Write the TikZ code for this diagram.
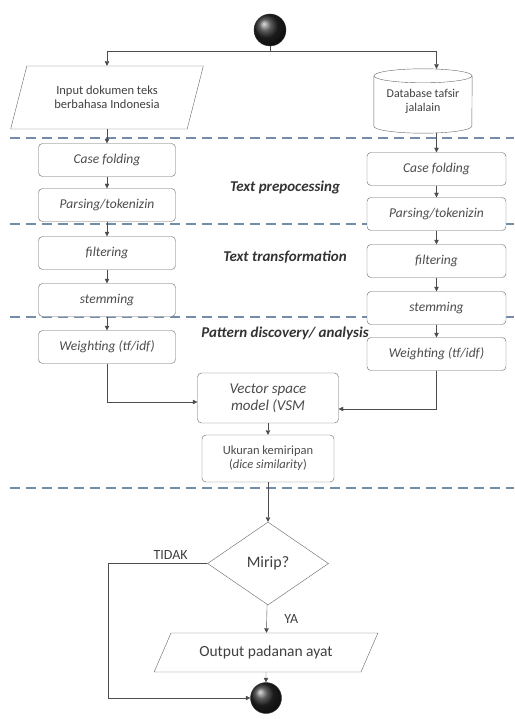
\documentclass[tikz,border=0pt]{standalone}
\usepackage{fontspec}
\setmainfont{Carlito}
\usetikzlibrary{arrows.meta,shapes.geometric,positioning}

\definecolor{sepblue}{RGB}{115,140,170}
\tikzset{
	stepbox/.style={draw=black!60, fill=white, rounded corners=4pt, minimum width=137pt, minimum height=33pt, font=\fontsize{13.5}{15}\selectfont\itshape, text=black!70},
	arr/.style={draw=black!70, -{Triangle[length=4.5pt,width=4.5pt]}},
	sepline/.style={draw=sepblue, line width=1.6pt, dash pattern=on 10pt off 6pt},
	section/.style={font=\fontsize{15}{17}\selectfont\bfseries\itshape, text=black!80},
	dot/.style={circle, minimum size=32pt, shading=ball, ball color=black!85, draw=black!80}
}

\begin{document}
\begin{tikzpicture}[x=1pt, y=-1pt]
		\useasboundingbox (0,0) rectangle (514,719);
		% separators
		\foreach \y in {138,224,317,488}
			\draw[sepline] (10,\y) -- (514,\y);
		\node[section] (prep) at (285,188) {Text prepocessing};
		\node[section] (trans) at (285,257) {Text transformation};
		\node[section] (pattern) at (285,333) {Pattern discovery/ analysis};
		% start
		\node[dot] (start) at (270,30) {};
		\coordinate (split) at (270,51);
		\node[trapezium, trapezium left angle=69, trapezium right angle=111, trapezium stretches=true, draw=black!60, fill=white, minimum width=193pt, minimum height=63pt, align=center, font=\fontsize{12.5}{14}\selectfont, text=black!75] (inp) at (107,97.5) {Input dokumen teks\\berbahasa Indonesia};
		\node[minimum width=98pt, minimum height=64pt, align=center, font=\fontsize{12}{14}\selectfont, text=black!75] (db) at (423,101) {Database tafsir\\jalalain};
		\draw[black!60] ([yshift=-7pt]db.north) ellipse [x radius=49pt, y radius=7pt];
		\draw[black!60] ([yshift=-7pt]db.north west) -- ([yshift=7pt]db.south west) arc [start angle=180, end angle=360, x radius=49pt, y radius=7pt] -- ([yshift=-7pt]db.north east);
		% left column
		\node[stepbox] (cfL) at (107,160) {Case folding};
		\node[stepbox] (psL) at (107,205) {Parsing/tokenizin};
		\node[stepbox] (flL) at (107,253) {filtering};
		\node[stepbox] (stL) at (107,300) {stemming};
		\node[stepbox] (wtL) at (107,347) {Weighting (tf/idf)};
		% right column
		\node[stepbox, minimum width=139pt] (cfR) at (436.5,169) {Case folding};
		\node[stepbox, minimum width=139pt] (psR) at (436.5,214) {Parsing/tokenizin};
		\node[stepbox, minimum width=139pt] (flR) at (436.5,261) {filtering};
		\node[stepbox, minimum width=139pt] (stR) at (436.5,308) {stemming};
		\node[stepbox, minimum width=139pt] (wtR) at (436.5,354) {Weighting (tf/idf)};
		% middle
		\node[stepbox, minimum width=141pt, minimum height=50pt, align=center, font=\fontsize{15}{17}\selectfont\itshape] (vsm) at (268,398) {Vector space\\model (VSM};
		\node[stepbox, minimum width=132pt, minimum height=47pt, align=center, font=\fontsize{12.5}{14}\selectfont] (sim) at (268,458.5) {Ukuran kemiripan\\(\textit{dice similarity})};
		\node[diamond, draw=black!60, fill=white, minimum width=121pt, minimum height=83pt, inner sep=0pt, font=\fontsize{16}{18}\selectfont, text=black!75] (dec) at (268,563.5) {Mirip?};
		\node[trapezium, trapezium left angle=58, trapezium right angle=122, trapezium stretches=true, draw=black!60, fill=white, minimum width=224pt, minimum height=39pt, font=\fontsize{15.5}{17}\selectfont, text=black!75] (out) at (266,652.5) {Output padanan ayat};
		\node[dot, minimum size=31pt] (stop) at (266,698) {};
		% connectors
		\draw[black!70] (start) -- (split);
		\draw[arr] (split) -| (inp.north);
		\draw[arr] (split) -| (db.north -| cfR);
		\draw[arr] (inp.south -| cfL) -- (cfL);
		\draw[arr] (db.south -| cfR) -- (cfR);
		\foreach \a/\b in {cfL/psL, psL/flL, flL/stL, stL/wtL, cfR/psR, psR/flR, flR/stR, stR/wtR}
			\draw[arr] (\a) -- (\b);
		\draw[arr] (wtL) |- ([yshift=-4pt]vsm.west);
		\draw[arr] (wtR) |- ([yshift=-11pt]vsm.east);
		\draw[arr] (vsm) -- (sim);
		\draw[arr] (sim) -- (dec);
		\draw[arr] (dec) -- node[right, xshift=14pt, font=\fontsize{14}{16}\selectfont, text=black!75] (ya) {YA} (out);
		\draw[arr] (dec.west) -- node[pos=0.37, above, font=\fontsize{14}{16}\selectfont, text=black!75] (tidak) {TIDAK} ++(-99,0) |- (stop);
		\draw[arr] (out) -- (stop);
	\end{tikzpicture}
\end{document}
